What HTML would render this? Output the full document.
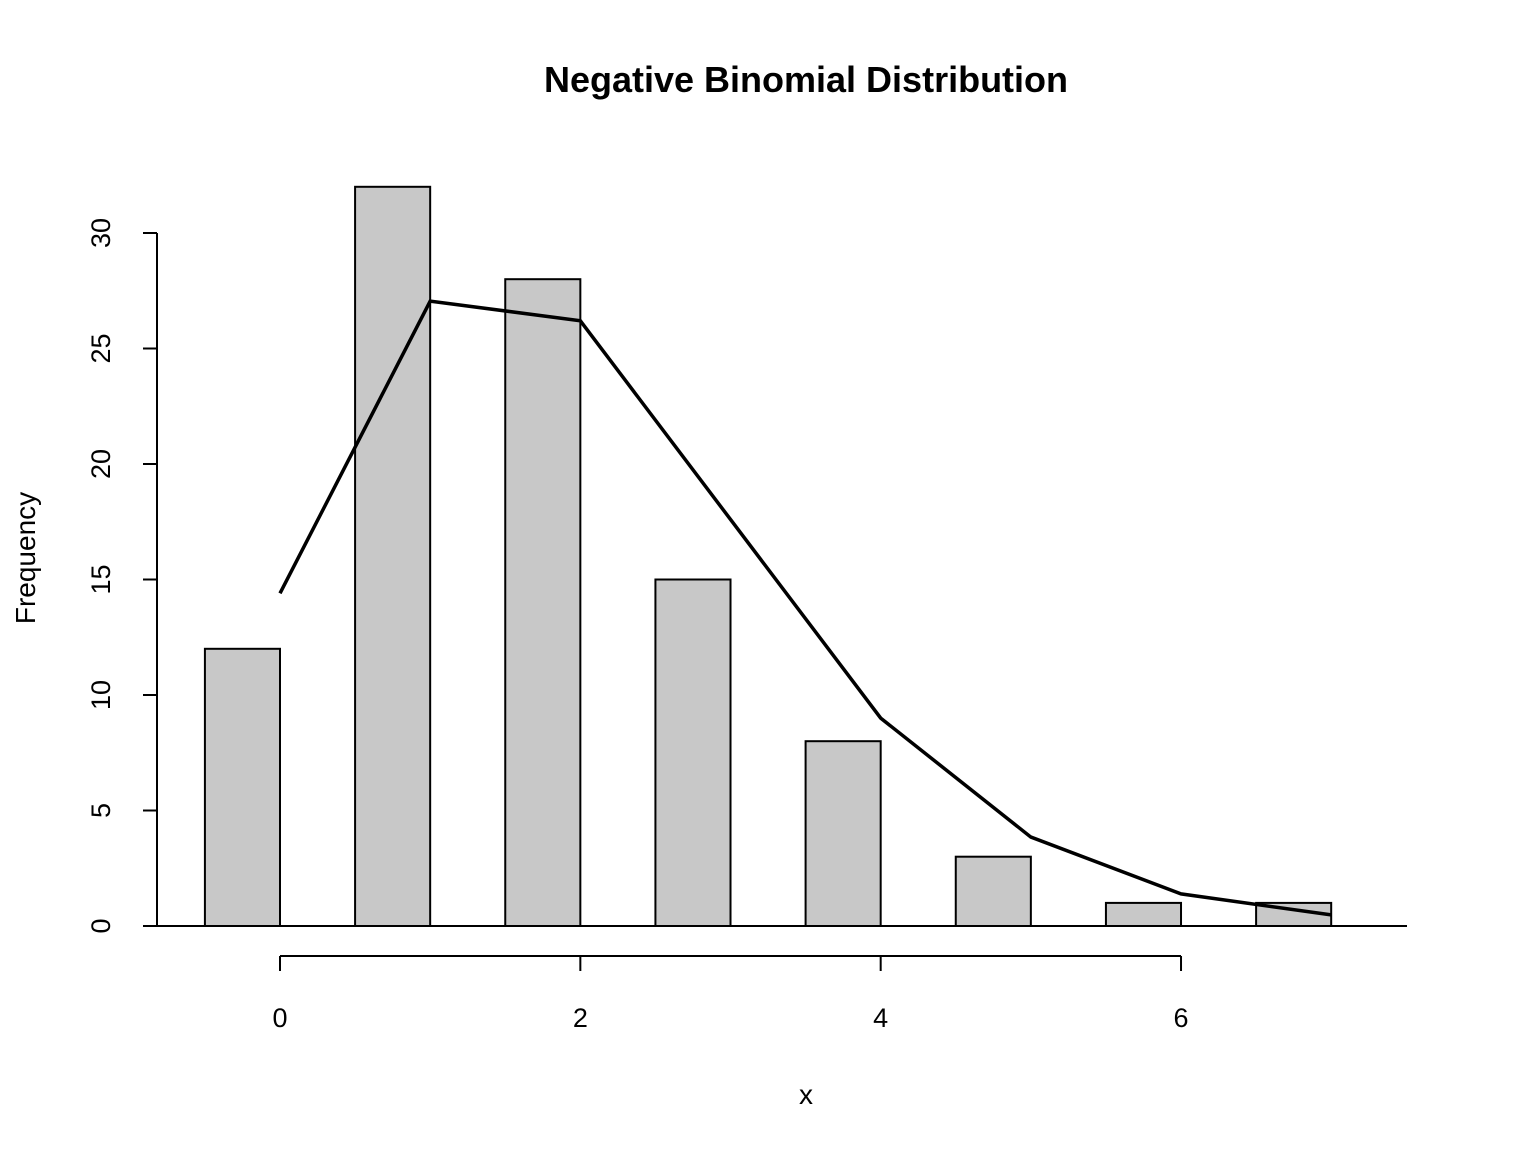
<!DOCTYPE html>
<html><head><meta charset="utf-8"><style>body{margin:0;background:#fff}svg{display:block}text{font-family:"Liberation Sans",Arial,sans-serif}</style></head>
<body>
<svg id="chart" width="1536" height="1152" xmlns="http://www.w3.org/2000/svg">
<text x="806" y="92" text-anchor="middle" font-size="36" font-weight="bold">Negative Binomial Distribution</text>
<text x="806" y="1104" text-anchor="middle" font-size="28">x</text>
<text transform="translate(35,558) rotate(-90)" text-anchor="middle" font-size="28">Frequency</text>
<g id="bars"></g><g id="axes"></g><g id="line"></g>
</svg>
<script>
const categories=[0,1,2,3,4,5,6,7];
const counts=[12,32,28,15,8,3,1,1];
const expected=[14.4,27.05,26.2,17.6,9.0,3.85,1.39,0.48];
const yTicks=[0,5,10,15,20,25,30];
const xTicks=[0,2,4,6];
const NS="http://www.w3.org/2000/svg";
const sx=v=>280+v*150.17;
const sy=v=>926-v*23.1;
function mk(tag,attrs,parent,txt){const e=document.createElementNS(NS,tag);for(const k in attrs)e.setAttribute(k,attrs[k]);if(txt!==undefined)e.textContent=txt;parent.appendChild(e);return e;}
const bars=document.getElementById('bars'),axes=document.getElementById('axes'),line=document.getElementById('line');
categories.forEach((c,i)=>{const r=mk('rect',{x:sx(c-0.5),y:sy(counts[i]),width:sx(c)-sx(c-0.5),height:sy(0)-sy(counts[i]),fill:'#c8c8c8',stroke:'#000','stroke-width':2},bars);

});
const base=mk('line',{x1:157,x2:1407,y1:sy(0),y2:sy(0),stroke:'#000','stroke-width':2},axes);


const ya=mk('line',{x1:157,x2:157,y1:sy(0),y2:sy(30),stroke:'#000','stroke-width':2},axes);


yTicks.forEach(t=>{mk('line',{x1:143,x2:157,y1:sy(t),y2:sy(t),stroke:'#000','stroke-width':2},axes);
const tx=mk('text',{transform:`translate(110,${sy(t)}) rotate(-90)`,'text-anchor':'middle','font-size':27},axes,String(t));

});
const xa=mk('line',{x1:sx(0),x2:sx(6),y1:956,y2:956,stroke:'#000','stroke-width':2},axes);


xTicks.forEach(t=>{mk('line',{x1:sx(t),x2:sx(t),y1:956,y2:971,stroke:'#000','stroke-width':2},axes);
const tx=mk('text',{x:sx(t),y:1027,'text-anchor':'middle','font-size':27},axes,String(t));

});
const pl=mk('polyline',{points:categories.map((c,i)=>sx(c)+','+sy(expected[i])).join(' '),fill:'none',stroke:'#000','stroke-width':3.5},line);


</script>
</body></html>
